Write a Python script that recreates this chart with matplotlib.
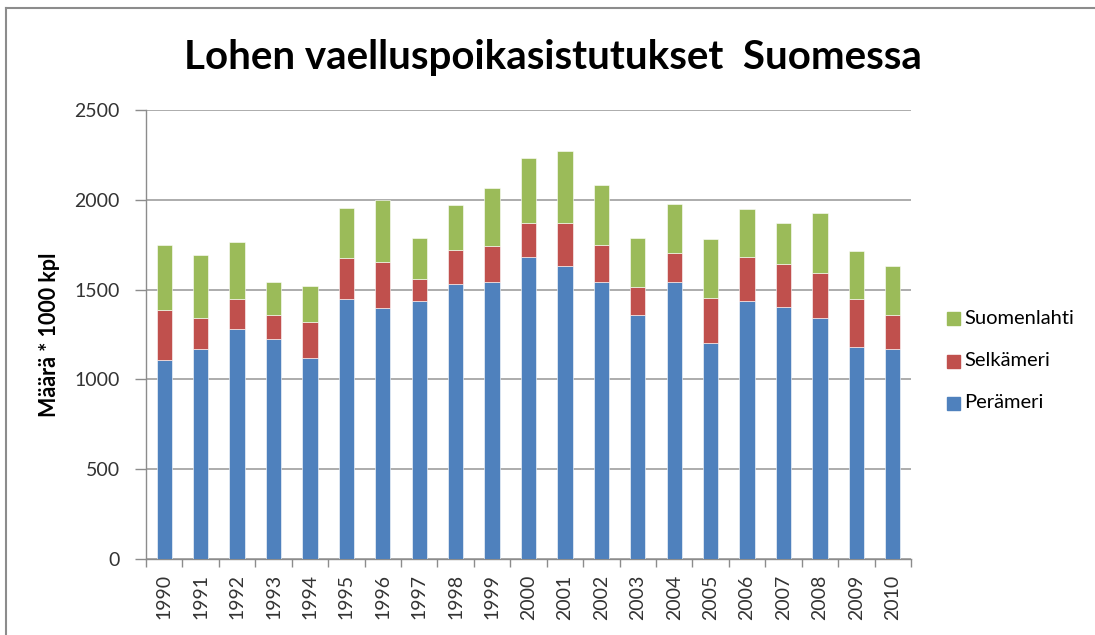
import matplotlib
matplotlib.use("Agg")
import matplotlib.pyplot as plt
import numpy as np
from matplotlib.lines import Line2D

years = [str(y) for y in range(1990, 2011)]
peramer = [1110, 1170, 1280, 1225, 1120, 1445, 1400, 1435, 1530, 1540, 1680,
           1630, 1540, 1360, 1540, 1205, 1435, 1405, 1340, 1180, 1170]
selkameri = [275, 170, 170, 135, 200, 230, 255, 125, 190, 205, 190,
             240, 210, 155, 165, 250, 245, 240, 250, 270, 190]
suomenlahti = [365, 350, 315, 185, 200, 280, 345, 225, 250, 320, 360,
               400, 335, 270, 270, 325, 270, 225, 335, 265, 270]
series_names = ["Perämeri", "Selkämeri", "Suomenlahti"]
colors = ["#4F81BD", "#C0504D", "#9BBB59"]

plt.rcParams['font.family'] = ['Lato', 'DejaVu Sans']

fig = plt.figure(figsize=(10.95, 6.35), dpi=100)
W, H = 1095, 635
ax = fig.add_axes([146 / W, 1 - 559 / H, (911 - 146) / W, (559 - 110) / H])

x = np.arange(len(years))
bottom = np.zeros(len(years))
for vals, name, c in zip([peramer, selkameri, suomenlahti], series_names, colors):
    ax.bar(x, vals, width=0.42, bottom=bottom, color=c, edgecolor='white',
           linewidth=0.4, label=name, zorder=3)
    bottom += np.array(vals)

ax.set_xlim(-0.5, len(years) - 0.5)
ax.set_ylim(0, 2500)
ax.set_yticks(range(0, 2501, 500))
ax.yaxis.grid(True, color='#A6A6A6', linewidth=1.3, zorder=0)
ax.set_axisbelow(True)

for s in ['top', 'right']:
    ax.spines[s].set_visible(False)
for s in ['left', 'bottom']:
    ax.spines[s].set_color('#8C8C8C')
    ax.spines[s].set_linewidth(1.0)

ax.set_xticks(x)
ax.set_xticklabels(years, rotation=90, fontsize=14, color='#333333')
ax.set_xticks(np.arange(-0.5, len(years), 1), minor=True)
ax.tick_params(axis='x', which='major', length=0, pad=11)
ax.tick_params(axis='x', which='minor', length=6, color='#8C8C8C', width=1)
ax.tick_params(axis='y', length=8, color='#8C8C8C', width=1, labelsize=14,
               labelcolor='#333333', pad=11)

ax.set_ylabel("Määrä * 1000 kpl", fontsize=15.5, fontweight='bold', labelpad=10)

fig.text(553 / W, 1 - 58 / H, "Lohen vaelluspoikasistutukset  Suomessa",
         ha='center', va='center', fontsize=29, fontweight='bold')

# legend (order top to bottom: Suomenlahti, Selkämeri, Perämeri)
leg_y = [318, 361, 403]
for name, c, yy in zip(series_names[::-1], colors[::-1], leg_y):
    fig.patches.append(plt.Rectangle((947 / W, 1 - (yy + 6.5) / H), 13 / W, 13 / H,
                                     transform=fig.transFigure, color=c))
    fig.text(964 / W, 1 - yy / H, name, ha='left', va='center', fontsize=14.5)

# outer frame (partially visible)
fig.add_artist(Line2D([6 / W, 1], [1 - 8 / H, 1 - 8 / H], transform=fig.transFigure,
                      color='#8C8C8C', linewidth=1.5))
fig.add_artist(Line2D([6 / W, 6 / W], [0, 1 - 8 / H], transform=fig.transFigure,
                      color='#8C8C8C', linewidth=1.5))

fig.savefig("out.png", dpi=100)
